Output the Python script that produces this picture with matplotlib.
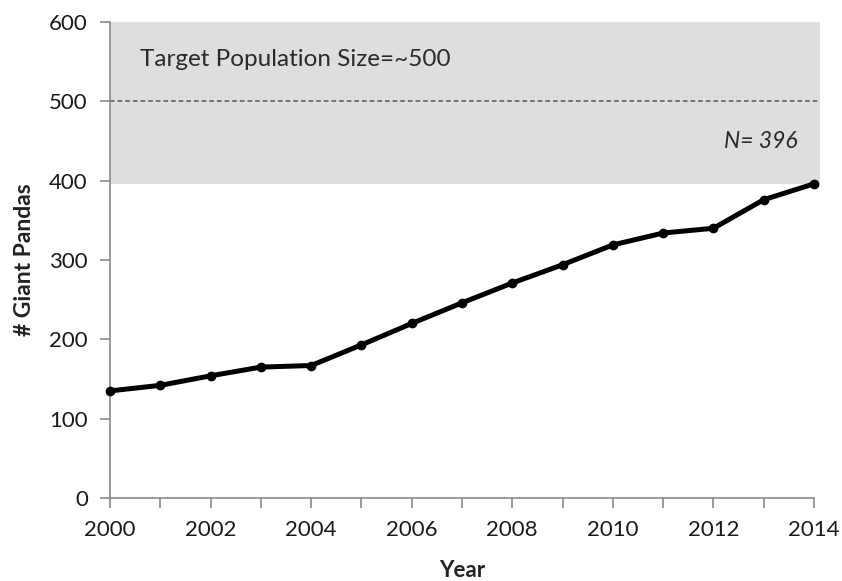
import matplotlib
matplotlib.use("Agg")
import matplotlib.pyplot as plt
from matplotlib.patches import Rectangle

years = [2000, 2001, 2002, 2003, 2004, 2005, 2006, 2007, 2008, 2009, 2010, 2011, 2012, 2013, 2014]
pandas_count = [135, 142, 154, 165, 167, 193, 220, 246, 271, 294, 319, 334, 340, 376, 396]
target = 500
current = 396
xticks = [2000, 2002, 2004, 2006, 2008, 2010, 2012, 2014]
yticks = [0, 100, 200, 300, 400, 500, 600]

plt.rcParams['font.family'] = ['Lato', 'DejaVu Sans']
fig = plt.figure(figsize=(8.42, 5.81), dpi=100)
ax = fig.add_axes([110/842, 1-498/581, (814-110)/842, (498-22)/581])

ax.add_patch(Rectangle((0, current), 1.009, 600-current, transform=ax.get_yaxis_transform(),
                       facecolor='#dedede', edgecolor='none', clip_on=False, zorder=0))
ax.plot([0, 1.006], [target, target], transform=ax.get_yaxis_transform(), color='#555555',
        linestyle=(0, (3, 2)), linewidth=1.1, clip_on=False, zorder=1)

ax.plot(years, pandas_count, color='black', linewidth=3.6, marker='o', markersize=6, zorder=3,
        clip_on=False)

ax.text(2000.6, 553, 'Target Population Size=~500', fontsize=17.5, color='#2a2a2a', va='center', ha='left')
ax.text(2013.68, 449, 'N= 396', fontsize=16.5, color='#2a2a2a', style='italic', va='center', ha='right')

ax.set_xlim(2000, 2014)
ax.set_ylim(0, 600)
ax.set_xticks(years)
ax.set_xticklabels([str(y) if y in xticks else '' for y in years])
ax.set_yticks(yticks)
for s in ['top', 'right']:
    ax.spines[s].set_visible(False)
for s in ['left', 'bottom']:
    ax.spines[s].set_color('#8a8a8a')
    ax.spines[s].set_linewidth(1.2)
ax.tick_params(axis='both', direction='out', length=7, width=1.2, color='#8a8a8a',
               labelsize=16, labelcolor='#1a1a1a')
ax.tick_params(axis='x', pad=9)
ax.tick_params(axis='y', pad=9)
ax.set_xlabel('Year', fontsize=16, fontweight='bold', color='#222222', labelpad=14)
ax.set_ylabel('# Giant Pandas', fontsize=16.5, fontweight='bold', color='#222222', labelpad=10)
ax.set_facecolor('white')

fig.savefig('out.png', dpi=100)
